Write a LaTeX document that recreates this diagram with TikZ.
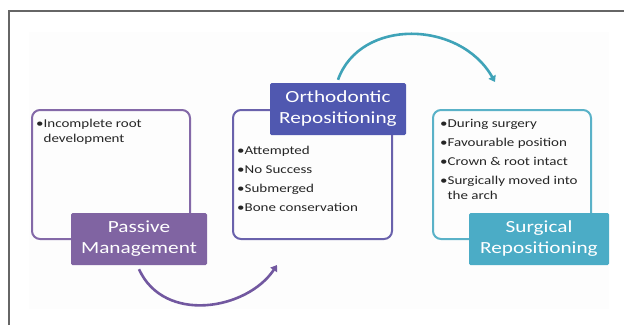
\documentclass[tikz,border=0pt]{standalone}
\usepackage{fontspec}
\setmainfont[FakeStretch=1.25]{Carlito}
\usetikzlibrary{arrows.meta}
\definecolor{pmfill}{HTML}{8064A2}
\definecolor{orfill}{HTML}{5058B0}
\definecolor{sufill}{HTML}{4BACC6}
\definecolor{pmline}{HTML}{8469A8}
\definecolor{orline}{HTML}{6A62AC}
\definecolor{suline}{HTML}{5AB2C8}
\definecolor{txt}{HTML}{262626}
\definecolor{arrP}{HTML}{7258A0}
\definecolor{arrT}{HTML}{3FA3B8}
\begin{document}
\begin{tikzpicture}[x=1pt,y=-1pt,
  outline/.style={draw, line width=2pt, rounded corners=8pt},
  titlebox/.style={fill=#1, text=white, inner sep=0pt, minimum width=136pt, minimum height=52pt, rounded corners=1.5pt, align=center, font=\fontsize{17}{21}\selectfont},
  bullets/.style={anchor=base west, inner sep=0pt, text=txt, font=\fontsize{12}{15}\selectfont},
  arc/.style={line width=2.6pt, -{Triangle[length=6pt,width=8pt]}}]
\useasboundingbox (0,0) rectangle (624,325);
\fill[white] (0,0) rectangle (624,325);
\fill[black!0.7] (29,32) rectangle (609,309);
\draw[line width=1.5pt, black!60] (9,325) -- (9,11) -- (624,11);
% outline boxes
\draw[outline, pmline] (32,110) rectangle (190,239);
\draw[outline, orline] (233,110) rectangle (392,239);
\draw[outline, suline] (433,110) rectangle (591,239);
% bullet lists
\node[bullets] (l1) at (36,127) {\begin{tabular}[t]{@{}l@{}}•Incomplete root\\\phantom{•}development\end{tabular}};
\node[bullets] (l2) at (237,154) {\begin{tabular}[t]{@{}l@{}}•Attempted\\[4pt]•No Success\\[4pt]•Submerged\\[4pt]•Bone conservation\end{tabular}};
\node[bullets] (l3) at (440,127) {\begin{tabular}[t]{@{}l@{}}•During surgery\\[4pt]•Favourable position\\[4pt]•Crown \& root intact\\[4pt]•Surgically moved into\\\phantom{•}the arch\end{tabular}};
% title boxes
\node[titlebox=pmfill] (pm) at (139,239) {Passive\\Management};
\node[titlebox=orfill] (or) at (338,109) {Orthodontic\\Repositioning};
\node[titlebox=sufill, minimum width=140pt] (su) at (539,239) {Surgical\\Repositioning};
% arrows
\coordinate (e1) at (277,265);
\coordinate (e2) at (495,82);
\draw[arc, arrP] ([yshift=-4pt]pm.south) .. controls +(25,55) and +(-30,45) .. (e1);
\draw[arc, arrT] ([yshift=3pt]or.north) .. controls +(22,-62) and +(-35,-62) .. (e2);
\end{tikzpicture}
\end{document}
